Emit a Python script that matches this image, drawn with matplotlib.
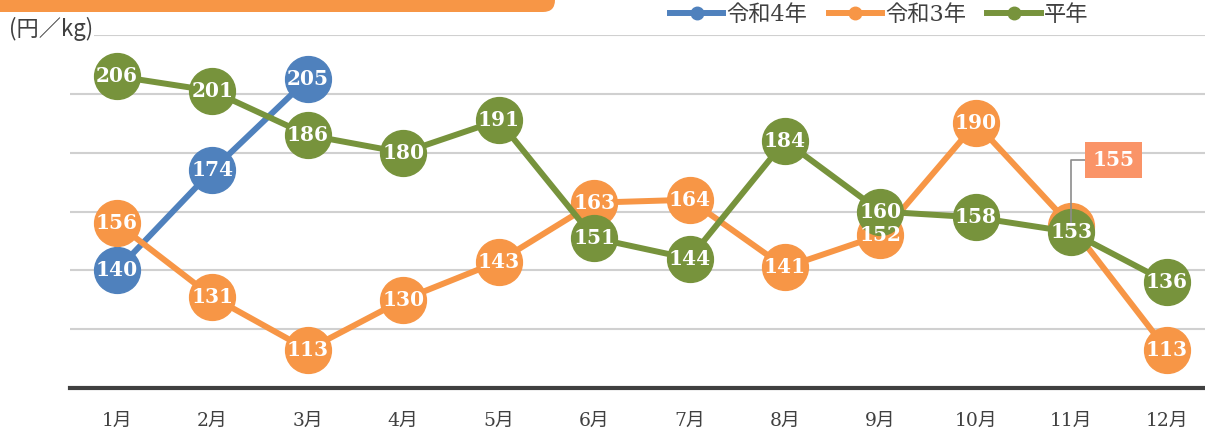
import matplotlib
matplotlib.use('Agg')
import matplotlib.pyplot as plt
import matplotlib.patches as mpatches
from matplotlib.lines import Line2D

months = ['1月', '2月', '3月', '4月', '5月', '6月', '7月', '8月', '9月', '10月', '11月', '12月']
r4 = [140, 174, 205]
r3 = [156, 131, 113, 130, 143, 163, 164, 141, 152, 190, 155, 113]
heinen = [206, 201, 186, 180, 191, 151, 144, 184, 160, 158, 153, 136]

c_blue = '#4F81BD'
c_orange = '#F79646'
c_green = '#77933C'
txt = '#404040'
num_font = ['DejaVu Serif', 'Noto Sans CJK JP']
jp_font = ['DejaVu Serif', 'Noto Sans CJK JP']

fig = plt.figure(figsize=(12.05, 4.33), dpi=100)
ax = fig.add_axes([70 / 1205, 1 - 388 / 433, 1 - 70 / 1205, (388 - 35) / 433])

# orange header bar (pixel coords)
fig.patches.append(mpatches.FancyBboxPatch((-20, 421), 575, 40, boxstyle='round,pad=0,rounding_size=12',
                                           transform=None, fc=c_orange, ec='none', zorder=0))

x = list(range(12))
series = [(r4, c_blue, '令和4年'), (r3, c_orange, '令和3年'), (heinen, c_green, '平年')]
for i, (vals, col, name) in enumerate(series):
    xs = x[:len(vals)]
    ax.plot(xs, vals, color=col, linewidth=4.3, marker='o', markersize=33, zorder=3 + i, solid_capstyle='round')
    for xi, v in zip(xs, vals):
        if name == '令和3年' and xi == 10:
            continue
        ax.text(xi, v, str(v), ha='center', va='center', color='white', fontsize=14.5,
                fontweight='bold', family=num_font, zorder=10)

# displaced label for November 令和3年
ax.plot([10.14, 10.0, 10.0], [177.5, 177.5, 155], color='#8C8C8C', linewidth=1.2, zorder=9)
ax.text(10.44, 177.5, '155', ha='center', va='center', color='white', fontsize=14.5, fontweight='bold',
        family=num_font, zorder=11, bbox=dict(boxstyle='square,pad=0.38', fc='#FA9468', ec='none'))

ax.set_xlim(-0.49, 11.40)
ax.set_ylim(100, 220)
ax.set_yticks([120, 140, 160, 180, 200, 220])
ax.grid(axis='y', color='#D0D0D0', linewidth=1.5, zorder=0)
ax.set_axisbelow(True)
ax.tick_params(axis='y', length=0, labelleft=False)
ax.set_xticks(x)
ax.set_xticklabels(months, fontsize=13.5, color=txt, family=jp_font)
ax.tick_params(axis='x', length=0, pad=17)
for s in ['left', 'right', 'top']:
    ax.spines[s].set_visible(False)
ax.spines['bottom'].set_color('#404040')
ax.spines['bottom'].set_linewidth(3)
ax.spines['bottom'].set_zorder(20)

fig.text(9 / 1205, 1 - 29 / 433, '(円／kg)', fontsize=16, color=txt, family=['Noto Sans CJK JP'],
         va='center', ha='left', bbox=dict(fc='white', ec='none', pad=1))

handles = [Line2D([], [], color=c, linewidth=4.3, marker='o', markersize=9) for _, c, _ in series]
leg = fig.legend(handles, [n for _, _, n in series], loc='center right', bbox_to_anchor=(1104 / 1205, 1 - 15 / 433),
                 ncol=3, frameon=True, handlelength=2.4, columnspacing=0.95, handletextpad=0.15,
                 borderpad=0.2, prop={'family': jp_font, 'size': 16})
leg.get_frame().set_facecolor('white')
leg.get_frame().set_edgecolor('none')
for t in leg.get_texts():
    t.set_color(txt)

fig.savefig('out.png', dpi=100)
